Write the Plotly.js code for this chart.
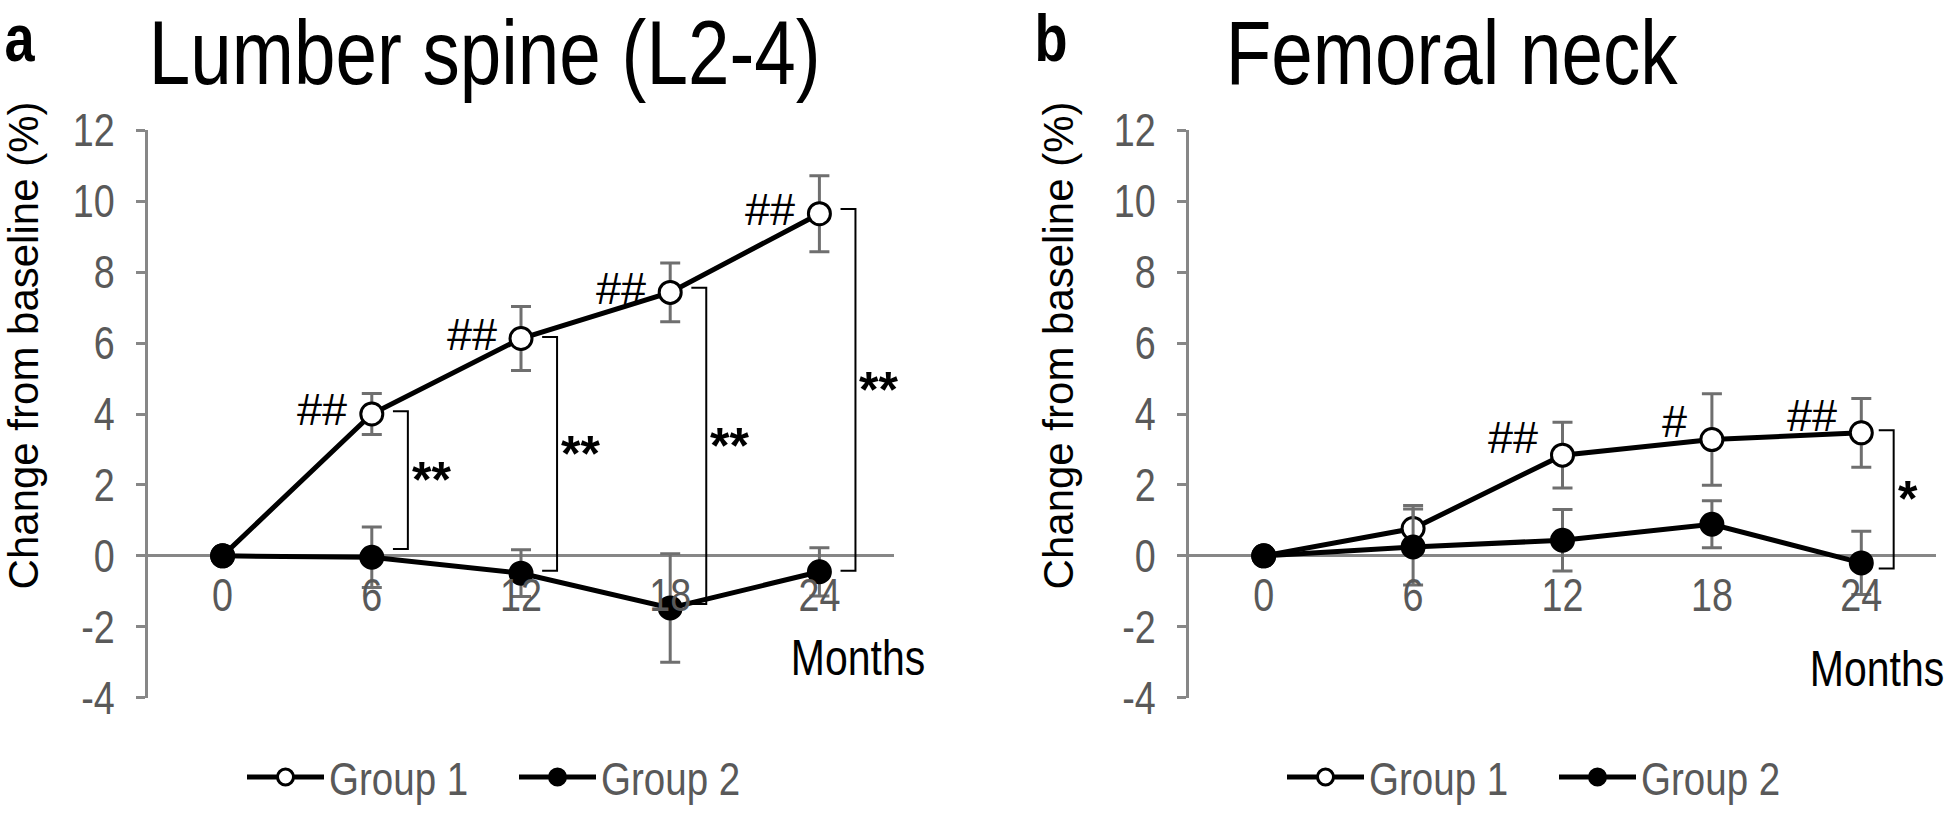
<!DOCTYPE html>
<html><head><meta charset="utf-8">
<script src="https://cdn.plot.ly/plotly-3.0.1.min.js"></script>
<style>html,body{margin:0;padding:0;background:#fff;}#chart{width:1946px;height:815px;}</style>
</head><body><div id="chart"></div>
<script>
// ---------- data ----------
const months = [0, 6, 12, 18, 24];
const monthLabels = ['0', '6', '12', '18', '24'];
const yTickVals = [-4, -2, 0, 2, 4, 6, 8, 10, 12];
const yTickLabels = ['-4', '-2', '0', '2', '4', '6', '8', '10', '12'];
const seriesNames = ['Group 1', 'Group 2'];
const panelTitles = ['Lumber spine (L2-4)', 'Femoral neck'];
const panelLetters = ['a', 'b'];
const yTitle = 'Change from baseline (%)';
const xTitle = 'Months';

// Panel a: lumbar spine
const lumbarG1 = [0, 4.00, 6.13, 7.43, 9.65];
const lumbarG1Err = [0, 0.58, 0.90, 0.83, 1.07];
const lumbarG2 = [0, -0.04, -0.49, -1.47, -0.45];
const lumbarG2Err = [0, 0.85, 0.66, 1.53, 0.68];
const lumbarHash = ['', '##', '##', '##', '##'];
const lumbarStars = ['', '**', '**', '**', '**'];
const lumbarBracketTop = [null, 4.08, 6.17, 7.56, 9.78];
const lumbarBracketBottom = [null, 0.19, -0.42, -1.36, -0.42];

// Panel b: femoral neck
const femoralG1 = [0, 0.77, 2.84, 3.28, 3.47];
const femoralG1Err = [0, 0.65, 0.93, 1.29, 0.97];
const femoralG2 = [0, 0.25, 0.44, 0.89, -0.20];
const femoralG2Err = [0, 1.07, 0.87, 0.66, 0.89];
const femoralHash = ['', '', '##', '#', '##'];
const femoralStars = ['', '', '', '', '*'];
const femoralBracketTop = [null, null, null, null, 3.54];
const femoralBracketBottom = [null, null, null, null, -0.36];

// ---------- style ----------
const W = 1946, H = 815;
const SANS = '"Liberation Sans", Arial, sans-serif';
const NARROW = SANS; // condensed horizontally after render (Arial Narrow look)
const CONDENSE = 0.82;
const TXT_GRAY = '#595959';
const AXIS_GRAY = '#878787';
const ERR_GRAY = '#6f6f6f';
const yRange = [-4, 12];
const yDom = [1 - 717 / H, 1 - 134 / H];
const zeroPos = yDom[0] + (yDom[1] - yDom[0]) * (0 - yRange[0]) / (yRange[1] - yRange[0]);
const xDoms = [[148 / W, 894 / W], [1189 / W, 1936 / W]];

function series(x, y, err, name, filled, xa, ya, leg) {
  return {
    type: 'scatter', mode: 'lines+markers', x: x, y: y, name: name,
    xaxis: xa, yaxis: ya, legend: leg,
    line: {color: '#000', width: 5},
    marker: {symbol: 'circle', size: 22, color: filled ? '#000' : '#fff', line: {color: '#000', width: 3}},
    error_y: {type: 'data', array: err, visible: true, color: ERR_GRAY, thickness: 3, width: 10},
    cliponaxis: false
  };
}

const traces = [
  series(months, lumbarG1, lumbarG1Err, seriesNames[0], false, 'x', 'y', 'legend'),
  series(months, lumbarG2, lumbarG2Err, seriesNames[1], true, 'x', 'y', 'legend'),
  series(months, femoralG1, femoralG1Err, seriesNames[0], false, 'x2', 'y2', 'legend2'),
  series(months, femoralG2, femoralG2Err, seriesNames[1], true, 'x2', 'y2', 'legend2')
];

const shapes = [];
const annotations = [];

function addMarks(xref, yref, g1, hash, stars, bTop, bBot, bracketDx, hashDy) {
  const arm = 0.6;
  for (let i = 0; i < months.length; i++) {
    if (hash[i]) {
      annotations.push({xref: xref, yref: yref, x: months[i] - 0.9, y: g1[i] + hashDy,
        xanchor: 'right', yanchor: 'middle', text: hash[i], showarrow: false,
        font: {family: SANS, size: 45, color: '#000'}});
    }
    if (bTop[i] !== null && bTop[i] !== undefined) {
      const xr = months[i] + bracketDx;
      shapes.push({type: 'path', xref: xref, yref: yref,
        path: 'M' + (xr - arm) + ',' + bTop[i] + ' L' + xr + ',' + bTop[i] + ' L' + xr + ',' + bBot[i] + ' L' + (xr - arm) + ',' + bBot[i],
        line: {color: '#000', width: 2}});
      if (stars[i]) {
        annotations.push({xref: xref, yref: yref, x: xr, y: (bTop[i] + bBot[i]) / 2,
          xanchor: 'left', yanchor: 'middle', xshift: 2, text: '<b>' + stars[i] + '</b>', showarrow: false,
          font: {family: SANS, size: 50, color: '#000'}});
      }
    }
  }
}
addMarks('x', 'y', lumbarG1, lumbarHash, lumbarStars, lumbarBracketTop, lumbarBracketBottom, 1.45, 0.12);
addMarks('x2', 'y2', femoralG1, femoralHash, femoralStars, femoralBracketTop, femoralBracketBottom, 1.3, 0.5);

// titles, panel letters, "Months", y titles
const titleX = [484, 1452];
const letterX = [0, 1030];
const monthsPos = [[858, 676], [1877, 688]];
const yTitleX = [23, 1058];
for (let p = 0; p < 2; p++) {
  annotations.push({xref: 'paper', yref: 'paper', x: titleX[p] / W, y: 1, xanchor: 'center', yanchor: 'top',
    text: panelTitles[p], showarrow: false, font: {family: NARROW, size: 91, color: '#000'}});
  annotations.push({xref: 'paper', yref: 'paper', x: letterX[p] / W, y: 1, xanchor: 'left', yanchor: 'top', borderpad: 0,
    text: '<b>' + panelLetters[p] + '</b>', showarrow: false, font: {family: NARROW, size: 66, color: '#000'}});
  annotations.push({xref: 'paper', yref: 'paper', x: monthsPos[p][0] / W, y: 1 - monthsPos[p][1] / H, xanchor: 'center', yanchor: 'middle',
    text: xTitle, showarrow: false, font: {family: NARROW, size: 50, color: '#000'}});
  annotations.push({xref: 'paper', yref: 'paper', x: yTitleX[p] / W, y: 1 - 355 / H, xanchor: 'center', yanchor: 'middle',
    textangle: -90, text: yTitle, showarrow: false, font: {family: SANS, size: 42, color: '#000'}});
}

function xAxis(dom) {
  return {domain: dom, range: [-3, 27], anchor: 'free', position: zeroPos,
    showline: false, showgrid: false, zeroline: false, ticks: '',
    tickmode: 'array', tickvals: months, ticktext: monthLabels, ticklabelstandoff: 8,
    tickfont: {family: NARROW, size: 46, color: TXT_GRAY}, layer: 'above traces', fixedrange: true};
}
function yAxis(anchor) {
  return {domain: yDom, range: yRange, anchor: anchor, showline: true, linecolor: AXIS_GRAY, linewidth: 3,
    ticks: 'outside', ticklen: 9, tickwidth: 3, tickcolor: AXIS_GRAY,
    tickmode: 'array', tickvals: yTickVals, ticktext: yTickLabels, showgrid: false,
    zeroline: true, zerolinecolor: AXIS_GRAY, zerolinewidth: 3, ticklabelstandoff: 12,
    tickfont: {family: NARROW, size: 46, color: TXT_GRAY}, fixedrange: true};
}

function legendCfg(x) {
  return {orientation: 'h', x: x / W, xanchor: 'left', y: 1 - 799 / H, yanchor: 'middle',
    font: {family: NARROW, size: 47, color: TXT_GRAY}, itemwidth: 77, bgcolor: 'rgba(0,0,0,0)',
    traceorder: 'normal', entrywidth: 180, itemclick: false, itemdoubleclick: false};
}

const layout = {
  width: W, height: H, margin: {l: 0, r: 0, t: 0, b: 0},
  paper_bgcolor: '#fff', plot_bgcolor: 'rgba(0,0,0,0)',
  showlegend: true,
  xaxis: xAxis(xDoms[0]), yaxis: yAxis('x'),
  xaxis2: xAxis(xDoms[1]), yaxis2: yAxis('x2'),
  legend: legendCfg(242), legend2: legendCfg(1282),
  shapes: shapes, annotations: annotations
};

// texts drawn in the narrow (condensed) face
const narrowTexts = new Set([].concat(monthLabels, yTickLabels, seriesNames, panelTitles, panelLetters, [xTitle]));

function condenseTexts() {
  document.querySelectorAll('#chart svg text').forEach(function (t) {
    const s = (t.textContent || '').trim();
    if (!narrowTexts.has(s)) return;
    let bb;
    try { bb = t.getBBox(); } catch (e) { return; }
    if (!bb || !bb.width) return;
    const anchor = t.getAttribute('text-anchor') || 'start';
    const cx = anchor === 'middle' ? bb.x + bb.width / 2 : (anchor === 'end' ? bb.x + bb.width : bb.x);
    const prev = t.getAttribute('transform') || '';
    t.setAttribute('transform', prev + ' translate(' + cx + ',0) scale(' + CONDENSE + ',1) translate(' + (-cx) + ',0)');
  });
}

Plotly.newPlot('chart', traces, layout, {displayModeBar: false, staticPlot: true}).then(condenseTexts);
</script>
</body></html>
